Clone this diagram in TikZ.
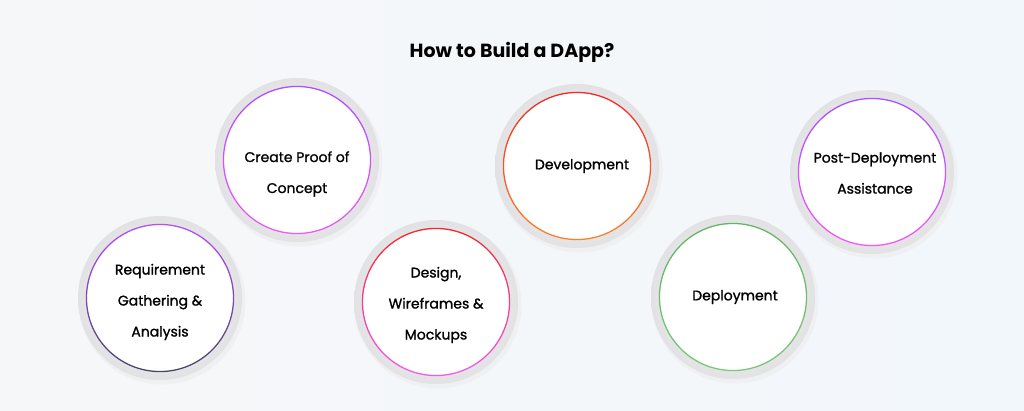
\documentclass[tikz,border=0pt]{standalone}
\usepackage{fontspec}
\setmainfont{Poppins}
\newfontfamily\lblfont{Poppins}[BoldFont={*},BoldFeatures={FakeBold=1.2}]
\begin{document}
\begin{tikzpicture}[x=1pt,y=-1pt,
  lbl/.style={align=center,font=\lblfont\bfseries\fontsize{14}{31}\selectfont, text=black}]
\useasboundingbox (0,0) rectangle (1024,410);
\shade[left color={rgb,255:red,246;green,247;blue,249}, right color={rgb,255:red,242;green,247;blue,251}] (0,0) rectangle (1024,410);
\node (title) at (512,52) {\fontsize{19}{22}\selectfont\bfseries How to Build a DApp?};
\newcommand{\stepcirc}[5]{%
  \fill[black!8,opacity=0.5] (#1+2,#2+3) circle (83.5);
  \shade[inner color=white, outer color={rgb,255:red,226;green,226;blue,228}] (#1,#2) circle (82);
  \fill[white] (#1,#2) circle (74);
  \shade[even odd rule, shading angle=#5, top color=#3, bottom color=#4] (#1,#2) circle (74.2) (#1,#2) circle (72.9);
}
\stepcirc{160}{298}{{rgb,255:red,180;green,80;blue,255}}{{rgb,255:red,70;green,70;blue,100}}{-45}
\stepcirc{297}{160}{{rgb,255:red,170;green,80;blue,255}}{{rgb,255:red,240;green,90;blue,240}}{-45}
\stepcirc{436}{302}{{rgb,255:red,240;green,40;blue,40}}{{rgb,255:red,240;green,90;blue,240}}{-45}
\stepcirc{577}{166}{{rgb,255:red,240;green,40;blue,40}}{{rgb,255:red,250;green,130;blue,40}}{-20}
\stepcirc{733}{297}{{rgb,255:red,100;green,180;blue,100}}{{rgb,255:red,120;green,200;blue,120}}{0}
\stepcirc{872}{172}{{rgb,255:red,170;green,80;blue,255}}{{rgb,255:red,240;green,90;blue,240}}{-45}
\node[lbl] (n1) at (160,302) {Requirement\\Gathering \&\\Analysis};
\node[lbl] (n2) at (297,174) {Create Proof of\\Concept};
\node[lbl] (n3) at (436,305) {Design,\\Wireframes \&\\Mockups};
\node[lbl] (n4) at (582,166) {Development};
\node[lbl] (n5) at (735,297) {Deployment};
\node[lbl] (n6) at (875,173) {Post-Deployment\\Assistance};
\end{tikzpicture}
\end{document}
